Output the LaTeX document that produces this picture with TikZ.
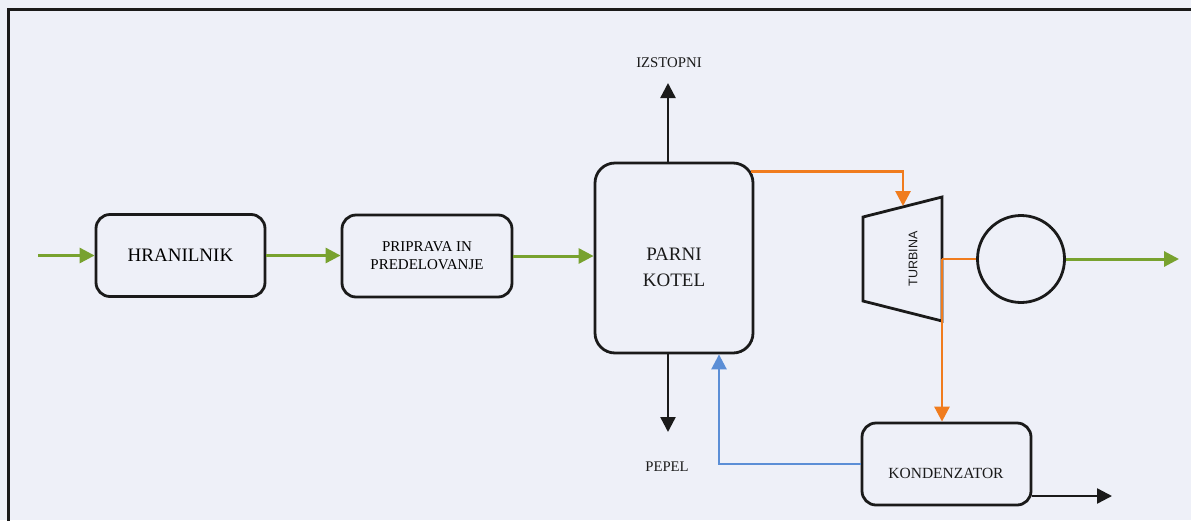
\documentclass[tikz,border=0pt]{standalone}
\usepackage{fontspec}
\setmainfont{Liberation Serif}
\newfontfamily\turbfont{Liberation Sans}
\usetikzlibrary{arrows.meta}
\definecolor{bg}{HTML}{EEF0F8}
\definecolor{grn}{HTML}{78A22F}
\definecolor{org}{HTML}{F07C1E}
\definecolor{blu}{HTML}{5B8ED6}
\definecolor{ink}{HTML}{1A1A1A}
\begin{document}
\begin{tikzpicture}[x=1pt,y=-1pt,
  box/.style={draw=ink, line width=2.8pt, inner sep=0pt, align=center},
  tip/.style={-{Triangle[length=15pt,width=15pt]}},
  garrow/.style={draw=grn, line width=3pt, tip},
  oarrow/.style={draw=org, line width=2.8pt, tip},
  blarrow/.style={draw=blu, line width=2.6pt, tip},
  barrow/.style={draw=ink, line width=2.4pt, tip},
  lab/.style={text=ink, inner sep=0pt, align=center}]
\fill[bg] (0,0) rectangle (1191,520);
\useasboundingbox (0,0) rectangle (1191,520);
% frame
\draw[ink, line width=3pt] (8,522) -- (8,9) -- (1193,9);

% boxes
\node[box, rounded corners=14pt, minimum width=169pt, minimum height=82pt,
      font=\fontsize{19}{22}\selectfont] (hran) at (180.5,255.5) {HRANILNIK};
\node[box, rounded corners=14pt, minimum width=170pt, minimum height=82pt,
      font=\fontsize{15}{18}\selectfont] (prip) at (427,256) {PRIPRAVA IN\\PREDELOVANJE};
\node[box, rounded corners=20pt, minimum width=158pt, minimum height=190pt] (kotel) at (674,258) {};
\node[lab, font=\fontsize{19}{26}\selectfont] (kotelt) at (674,267) {PARNI\\KOTEL};
\node[box, rounded corners=14pt, minimum width=169pt, minimum height=82pt] (kond) at (946.5,464) {};
\node[lab, font=\fontsize{15.5}{18}\selectfont] (kondt) at (946,473) {KONDENZATOR};

% turbine
\coordinate (t1) at (863,217);
\coordinate (t2) at (942,197);
\coordinate (t3) at (942,321);
\coordinate (t4) at (863,301);
\draw[ink, line width=2.8pt] (t1) -- (t2) -- (t3) -- (t4) -- cycle;
\node[lab, rotate=90, font=\turbfont\fontsize{12.5}{14}\selectfont] (turbt) at (913,259) {TURBINA};

% generator
\node[draw=ink, circle, line width=2.8pt, minimum size=87pt, inner sep=0pt] (gen) at (1021,259) {};

% labels
\node[lab, font=\fontsize{14.8}{17}\selectfont] (izst) at (669,63) {IZSTOPNI};
\node[lab, font=\fontsize{14.7}{17}\selectfont] (pepel) at (667,467) {PEPEL};

% coordinates for free ends
\coordinate (in) at (38,255.5);
\coordinate (izstend) at (668,83);
\coordinate (pepend) at (668,432);
\coordinate (tin) at (903,206);
\coordinate (tout) at (942,259);
\coordinate (gout) at (1179,259);
\coordinate (kout) at (1112,496);

% connectors
\draw[garrow] (in) -- (hran.west);
\draw[garrow] (hran.east) -- (hran.east -| prip.west);
\draw[garrow] (prip.east) -- (prip.east -| kotel.west);
\draw[barrow] ([xshift=-6pt]kotel.north) -- (izstend);
\draw[barrow] ([xshift=-6pt]kotel.south) -- (pepend);
\draw[oarrow] ([shift={(-3pt,-10pt)}]kotel.north east) -| (tin);
\draw[org, line width=1.5pt] (tout) -- (gen.west);
\draw[oarrow] (tout) -- (tout |- kond.north);
\draw[garrow] (gen.east) -- (gout);
\draw[blarrow] (kond.west) -| ([xshift=45pt]kotel.south);
\draw[barrow] ([yshift=-32pt]kond.east) -- (kout);
\end{tikzpicture}
\end{document}
